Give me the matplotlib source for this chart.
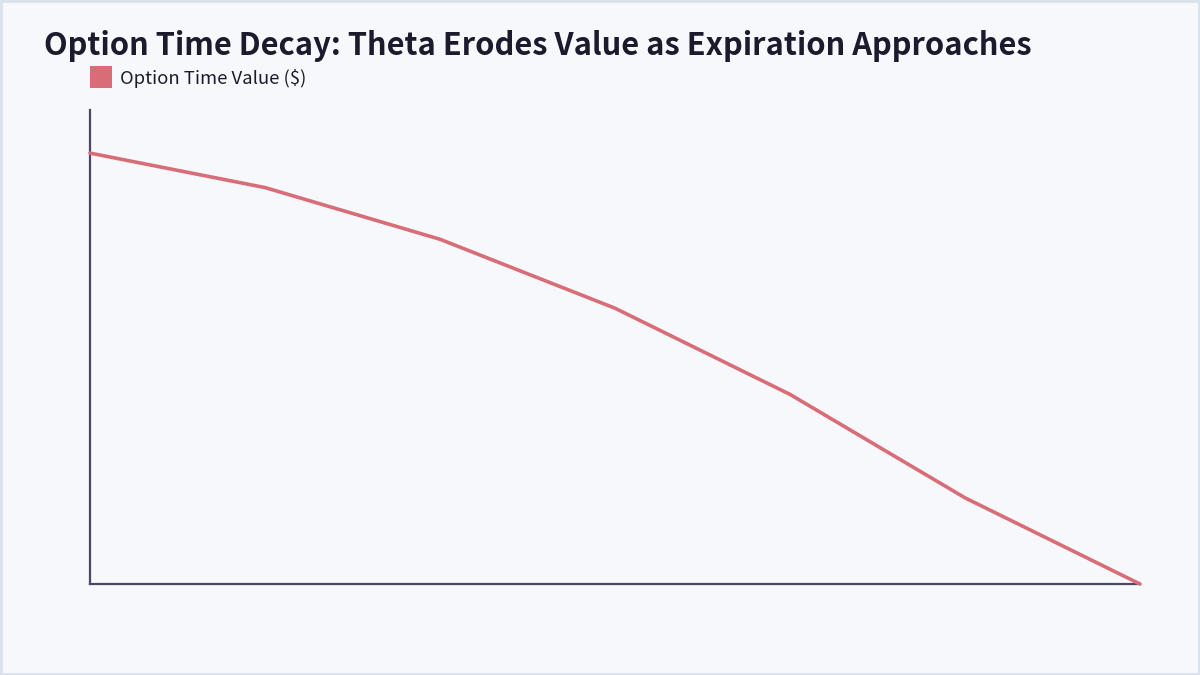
import matplotlib
matplotlib.use("Agg")
import matplotlib.pyplot as plt
from matplotlib.patches import Rectangle

plt.rcParams['font.family'] = ['Noto Sans CJK KR', 'DejaVu Sans']

# Data
days_to_expiry = ["90", "75", "60", "45", "30", "15", "0"]
time_value = [10.0, 9.2, 8.0, 6.4, 4.4, 2.0, 0.0]
series_name = "Option Time Value ($)"
title = "Option Time Decay: Theta Erodes Value as Expiration Approaches"

BG = "#F7F8FC"
LINE = "#D96D77"
AXIS = "#4A4866"
TEXT = "#1C1B2E"

W, H = 1200, 675
fig = plt.figure(figsize=(12, 6.75), dpi=100)
fig.patch.set_facecolor(BG)

# Outer border
fig.patches.append(Rectangle((0, 0), 1, 1, transform=fig.transFigure,
                             fill=False, edgecolor="#DCE2EB", linewidth=3.5))

left, right, top, bottom = 90, 1140, 110, 584
ax = fig.add_axes([left / W, 1 - bottom / H, (right - left) / W, (bottom - top) / H])
ax.set_facecolor(BG)

x = list(range(len(days_to_expiry)))
line, = ax.plot(x, time_value, color=LINE, linewidth=2.6, solid_capstyle='round',
                solid_joinstyle='round', label=series_name, clip_on=False, zorder=3)

ax.set_xlim(0, len(x) - 1)
ax.set_ylim(0, 11)
ax.set_xticks([])
ax.set_yticks([])
for s in ['top', 'right']:
    ax.spines[s].set_visible(False)
for s in ['left', 'bottom']:
    ax.spines[s].set_color(AXIS)
    ax.spines[s].set_linewidth(1.6)

fig.text(44 / W, 1 - 54.5 / H, title, fontsize=22.2, fontweight='bold',
         color=TEXT, ha='left', va='baseline')

# Legend (swatch + label)
fig.patches.append(Rectangle((90 / W, 1 - 88 / H), 22 / W, 22 / H,
                             transform=fig.transFigure, facecolor=line.get_color(),
                             edgecolor='none'))
fig.text(120 / W, 1 - 83.5 / H, line.get_label(), fontsize=13.3,
         color=TEXT, ha='left', va='baseline')

fig.savefig("out.png", dpi=100, facecolor=BG)
